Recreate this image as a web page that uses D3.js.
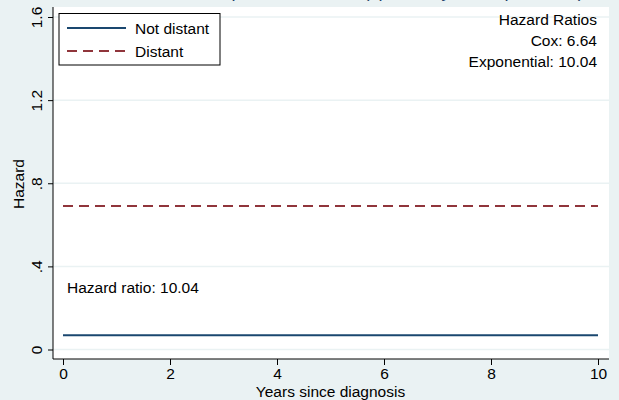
<!DOCTYPE html>
<html>
<head>
	<meta charset="utf-8">
	<title>Hazard</title>
	<script src="https://cdn.jsdelivr.net/npm/d3@7"></script>
	<style>
		body { margin: 0; background: #eaf2f3; }
		svg { display: block; font-family: Arial, "Liberation Sans", Helvetica, sans-serif; }
	</style>
</head>
<body>
	<div id="chart"></div>
	<script>

		// data
		const years = [0, 10];
		const notDistant = [0.0687, 0.0687];
		const distant = [0.69, 0.69];
		const seriesNames = ['Not distant', 'Distant'];
		const xTicks = [0, 2, 4, 6, 8, 10];
		const yTicks = [0, 0.4, 0.8, 1.2, 1.6];
		const yTickLabels = ['0', '.4', '.8', '1.2', '1.6'];
		const ratioNotes = ['Hazard Ratios', 'Cox: 6.64', 'Exponential: 10.04'];
		const hrLabel = 'Hazard ratio: 10.04';
		const title = 'Hazard from the exponential model (split at 1 year, exponential)';

		const width = 619, height = 400;
		const blue = '#1a476f', red = '#90353b', bg = '#eaf2f3';
		const fs = '15.5px';

		const plot = { left: 53, right: 609, top: 7, bottom: 359 };

		const x = d3.scaleLinear().domain([0, 10]).range([63, 598]);
		const y = d3.scaleLinear().domain([0, 1.6]).range([349.5, 17]);

		const svg = d3.select('#chart').append('svg')
			.attr('width', width)
			.attr('height', height);

		svg.append('rect')
			.attr('width', width).attr('height', height)
			.attr('fill', bg);

		// title, mostly cut off above the picture
		svg.append('text')
			.attr('x', 331).attr('y', -3.5)
			.attr('text-anchor', 'middle')
			.style('font-size', '18px')
			.attr('fill', '#1e3f66')
			.text(title);

		svg.append('rect')
			.attr('x', plot.left).attr('y', plot.top)
			.attr('width', plot.right - plot.left)
			.attr('height', plot.bottom - plot.top)
			.attr('fill', '#fff');

		// gridlines
		svg.append('g')
			.selectAll('line')
			.data(yTicks)
			.join('line')
			.attr('x1', plot.left).attr('x2', plot.right)
			.attr('y1', d => y(d)).attr('y2', d => y(d))
			.attr('stroke', bg)
			.attr('stroke-width', 1.5);

		// y axis
		const yAxis = svg.append('g')
			.attr('transform', `translate(${plot.left},0)`)
			.call(d3.axisLeft(y).tickValues(yTicks).tickSize(5).tickSizeOuter(0).tickFormat((d, i) => yTickLabels[i]));
		yAxis.select('.domain').attr('d', `M0,${plot.top}V${plot.bottom}`).attr('stroke', '#000');
		yAxis.selectAll('.tick line').attr('stroke', '#000');
		yAxis.selectAll('.tick text')
			.attr('x', null).attr('dy', null)
			.attr('transform', 'translate(-11,0) rotate(-90)')
			.attr('text-anchor', 'middle')
			.attr('fill', '#000')
			.style('font-size', fs);

		// x axis
		const xAxis = svg.append('g')
			.attr('transform', `translate(0,${plot.bottom})`)
			.call(d3.axisBottom(x).tickValues(xTicks).tickSize(6).tickSizeOuter(0));
		xAxis.select('.domain').attr('d', `M${plot.left},0H${plot.right}`).attr('stroke', '#000');
		xAxis.selectAll('.tick line').attr('stroke', '#000');
		xAxis.selectAll('.tick text')
			.attr('y', 9)
			.attr('fill', '#000')
			.style('font-size', fs);

		svg.append('text')
			.attr('x', x(5)).attr('y', 397)
			.attr('text-anchor', 'middle')
			.style('font-size', fs)
			.text('Years since diagnosis');

		svg.append('text')
			.attr('transform', 'translate(24,184) rotate(-90)')
			.attr('text-anchor', 'middle')
			.style('font-size', fs)
			.text('Hazard');

		// lines
		const line = d3.line().x(d => x(d[0])).y(d => y(d[1]));
		svg.append('path')
			.datum(years.map((t, i) => [t, notDistant[i]]))
			.attr('d', line)
			.attr('fill', 'none')
			.attr('stroke', blue)
			.attr('stroke-width', 2);
		svg.append('path')
			.datum(years.map((t, i) => [t, distant[i]]))
			.attr('d', line)
			.attr('fill', 'none')
			.attr('stroke', red)
			.attr('stroke-width', 2)
			.attr('stroke-dasharray', '10,6');

		// legend
		const legend = svg.append('g');
		legend.append('rect')
			.attr('x', 59).attr('y', 13.5)
			.attr('width', 161).attr('height', 51.5)
			.attr('fill', '#fff')
			.attr('stroke', '#000');
		const colors = [blue, red];
		seriesNames.forEach((name, i) => {
			const ly = 28 + i * 23;
			legend.append('line')
				.attr('x1', 67).attr('x2', 126)
				.attr('y1', ly).attr('y2', ly)
				.attr('stroke', colors[i])
				.attr('stroke-width', 2)
				.attr('stroke-dasharray', i === 1 ? '10,6' : null);
			legend.append('text')
				.attr('x', 135).attr('y', ly + 5.5)
				.style('font-size', fs)
				.text(name);
		});

		// notes
		svg.append('g')
			.selectAll('text')
			.data(ratioNotes)
			.join('text')
			.attr('x', 597)
			.attr('y', (d, i) => 24.5 + i * 21)
			.attr('text-anchor', 'end')
			.style('font-size', fs)
			.text(d => d);

		svg.append('text')
			.attr('x', 67).attr('y', 292.5)
			.style('font-size', fs)
			.text(hrLabel);

	</script>
</body>
</html>
